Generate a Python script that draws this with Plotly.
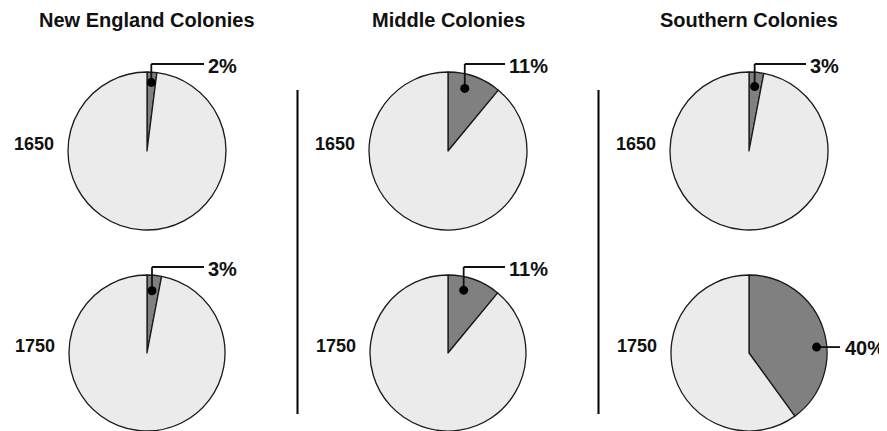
import math
import plotly.graph_objects as go

# ---- data ----
regions = ["New England Colonies", "Middle Colonies", "Southern Colonies"]
years = ["1650", "1750"]
pct_1650 = [2, 11, 3]
pct_1750 = [3, 11, 40]

# ---- layout / style (pixels in the 887x431 page; page body has an 8px margin) ----
OFF = 8
W, H = 887 - OFF, 431 - OFF
col_cx = [147, 448, 749]
row_cy = [151, 353]
row_r = [79, 78]
# label placement per (row, col): (side, dot angle deg from 12 o'clock, radial fraction)
placement = {
    (0, 0): ("top", 3.6, 0.87), (0, 1): ("top", 15, 0.82), (0, 2): ("top", 5.0, 0.82),
    (1, 0): ("top", 4.6, 0.80), (1, 1): ("top", 14, 0.83), (1, 2): ("right", 85, 0.87),
}
DARK, LIGHT = "#808080", "#ebebeb"
FONT = "Liberation Sans, Arial, sans-serif"


def px(x):
    return (x - OFF) / W


def py(y):
    return 1 - (y - OFF) / H


fig = go.Figure()
shapes, annots = [], []
values_by_row = [pct_1650, pct_1750]

for r_i, vals in enumerate(values_by_row):
    cy, rad = row_cy[r_i], row_r[r_i]
    for c_i, v in enumerate(vals):
        cx = col_cx[c_i]
        fig.add_trace(go.Pie(
            values=[v, 100 - v], sort=False, direction="clockwise", rotation=0,
            marker=dict(colors=[DARK, LIGHT], line=dict(color="#1a1a1a", width=1.3)),
            textinfo="none", hoverinfo="skip", showlegend=False,
            domain=dict(x=[px(cx - rad), px(cx + rad)],
                        y=[max(0, py(cy + rad)), min(1, py(cy - rad))]),
        ))
        # year label
        annots.append(dict(x=px(cx - rad - 12), y=py(cy - 7), xref="paper", yref="paper",
                           text=f"<b>{years[r_i]}</b>", showarrow=False, xanchor="right",
                           yanchor="middle", font=dict(family=FONT, size=18, color="#111")))
        # leader
        side, ang, frac = placement[(r_i, c_i)]
        a = math.radians(ang)
        dx_ = cx + frac * rad * math.sin(a)
        dy_ = cy - frac * rad * math.cos(a)
        if side == "top":
            ly = cy - rad - 8
            ex = cx + 57
            shapes.append(dict(type="line", xref="paper", yref="paper", x0=px(dx_), y0=py(dy_),
                               x1=px(dx_), y1=py(ly), line=dict(color="#111", width=1.8)))
            shapes.append(dict(type="line", xref="paper", yref="paper", x0=px(dx_), y0=py(ly),
                               x1=px(ex), y1=py(ly), line=dict(color="#111", width=1.8)))
            tx, ty = ex + 2, ly + 2
        else:
            ex = cx + rad + 13
            ly = dy_
            shapes.append(dict(type="line", xref="paper", yref="paper", x0=px(dx_), y0=py(ly),
                               x1=px(ex), y1=py(ly), line=dict(color="#111", width=1.8)))
            tx, ty = ex + 3, ly + 1
        shapes.append(dict(type="circle", xref="paper", yref="paper",
                           x0=px(dx_ - 4.5), x1=px(dx_ + 4.5), y0=py(dy_ + 4.5), y1=py(dy_ - 4.5),
                           fillcolor="#000", line=dict(color="#000", width=0)))
        annots.append(dict(x=px(tx), y=py(ty), xref="paper", yref="paper",
                           text=f"<b>{v}%</b>", showarrow=False, xanchor="left", yanchor="middle",
                           font=dict(family=FONT, size=20, color="#111")))

# titles
for c_i, name in enumerate(regions):
    annots.append(dict(x=px(col_cx[c_i]), y=py(20), xref="paper", yref="paper",
                       text=f"<b>{name}</b>", showarrow=False, xanchor="center", yanchor="middle",
                       font=dict(family=FONT, size=20, color="#111")))

# separators between columns
for c_i in range(len(col_cx) - 1):
    sx = (col_cx[c_i] + col_cx[c_i + 1]) / 2
    shapes.append(dict(type="line", xref="paper", yref="paper", x0=px(sx), x1=px(sx),
                       y0=py(90), y1=py(414), line=dict(color="#000", width=2)))

fig.update_layout(width=W, height=H, margin=dict(l=0, r=0, t=0, b=0),
                  paper_bgcolor="white", plot_bgcolor="white",
                  shapes=shapes, annotations=annots)

fig.write_html("out.html")
